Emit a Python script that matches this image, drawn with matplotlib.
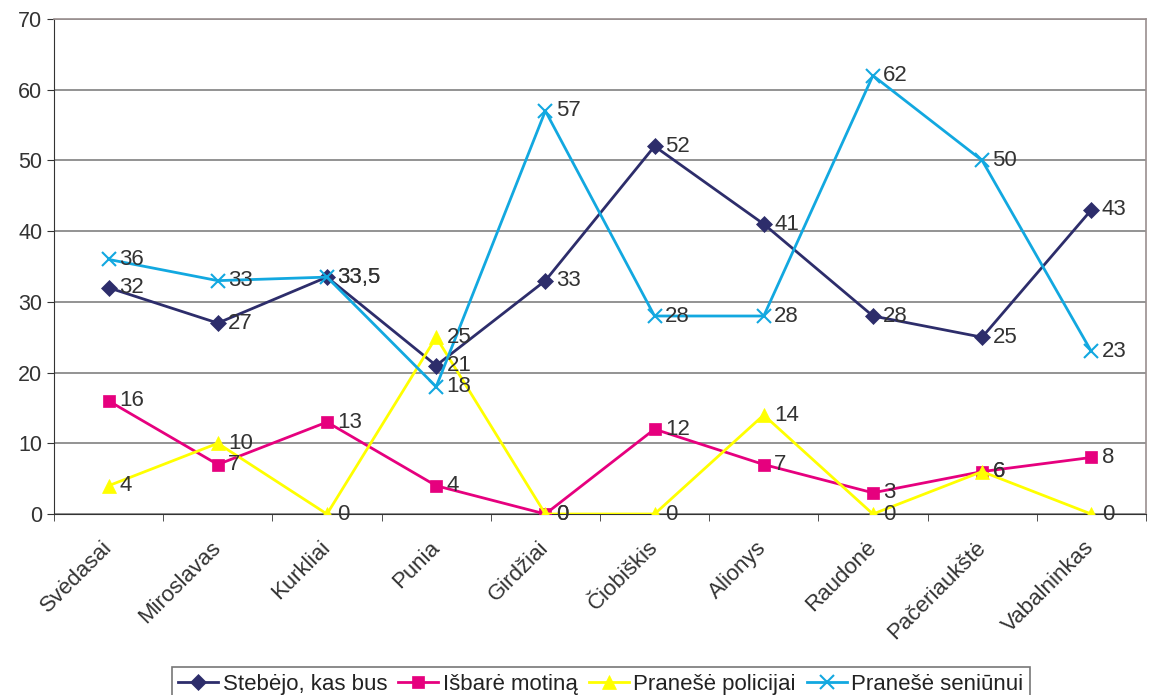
import numpy as np
import matplotlib.pyplot as plt
import matplotlib.transforms as mtransforms

plt.rcParams['font.family'] = ['Liberation Sans', 'DejaVu Sans']

vietoves = ["Svėdasai", "Miroslavas", "Kurkliai", "Punia", "Girdžiai",
            "Čiobiškis", "Alionys", "Raudonė", "Pačeriaukštė", "Vabalninkas"]

stebejo = [32, 27, 33.5, 21, 33, 52, 41, 28, 25, 43]
isbare = [16, 7, 13, 4, 0, 12, 7, 3, 6, 8]
policijai = [4, 10, 0, 25, 0, 0, 14, 0, 6, 0]
seniunui = [36, 33, 33.5, 18, 57, 28, 28, 62, 50, 23]

serijos = [
    ("Stebėjo, kas bus", stebejo, "#2D2D6B", "D", 8),
    ("Išbarė motiną", isbare, "#E6007E", "s", 8),
    ("Pranešė policijai", policijai, "#FFFF00", "^", 10),
    ("Pranešė seniūnui", seniunui, "#12A8E0", "x", 10),
]

fig = plt.figure(figsize=(11.49, 6.95), dpi=100)
ax = fig.add_axes([0.047, 0.2604, 0.9503, 0.7123])

x = np.arange(len(vietoves))
for pavadinimas, reiksmes, spalva, zymeklis, dydis in serijos:
    ax.plot(x, reiksmes, color=spalva, marker=zymeklis, markersize=dydis,
            linewidth=2, markeredgewidth=1.5 if zymeklis == "x" else 0.5,
            markeredgecolor=spalva, label=pavadinimas, zorder=3)
    for xi, v in zip(x, reiksmes):
        tekstas = f"{v:g}".replace(".", ",")
        ax.annotate(tekstas, (xi, v), xytext=(7.5, 0), textcoords="offset points",
                    ha="left", va="center", fontsize=16, color="#333333", zorder=4)

ax.set_xlim(-0.5, len(vietoves) - 0.5)
ax.set_ylim(0, 70)
ax.set_yticks(range(0, 71, 10))
ax.set_xticks(x)
ax.set_xticklabels(vietoves, rotation=45, ha="right", va="center", rotation_mode="anchor")
poslinkis = mtransforms.ScaledTranslation(-20 / 100, 0, fig.dpi_scale_trans)
for lbl in ax.get_xticklabels():
    lbl.set_transform(lbl.get_transform() + poslinkis)
ax.set_xticks(np.arange(-0.5, len(vietoves)), minor=True)
ax.tick_params(axis="x", which="major", length=0, pad=22, labelsize=16, labelcolor="#333333")
ax.tick_params(axis="x", which="minor", length=5, color="#333333")
ax.tick_params(axis="y", length=5, labelsize=15.5, labelcolor="#333333", color="#333333")

ax.grid(axis="y", color="#808080", linewidth=1.2, zorder=0)
ax.set_axisbelow(True)
for s in ["top", "right"]:
    ax.spines[s].set_color("#9A8F8F")
    ax.spines[s].set_linewidth(1.2)
ax.spines["left"].set_color("#333333")
ax.spines["bottom"].set_color("#333333")

leg = fig.legend(loc="lower center", bbox_to_anchor=(0.523, -0.025), ncol=4,
                 fontsize=16, frameon=True, fancybox=False, edgecolor="#555555",
                 handlelength=1.8, handletextpad=0.2, columnspacing=0.5,
                 borderpad=0.3, labelcolor="#222222")
leg.get_frame().set_linewidth(1.2)

plt.savefig("out.png", dpi=100)
